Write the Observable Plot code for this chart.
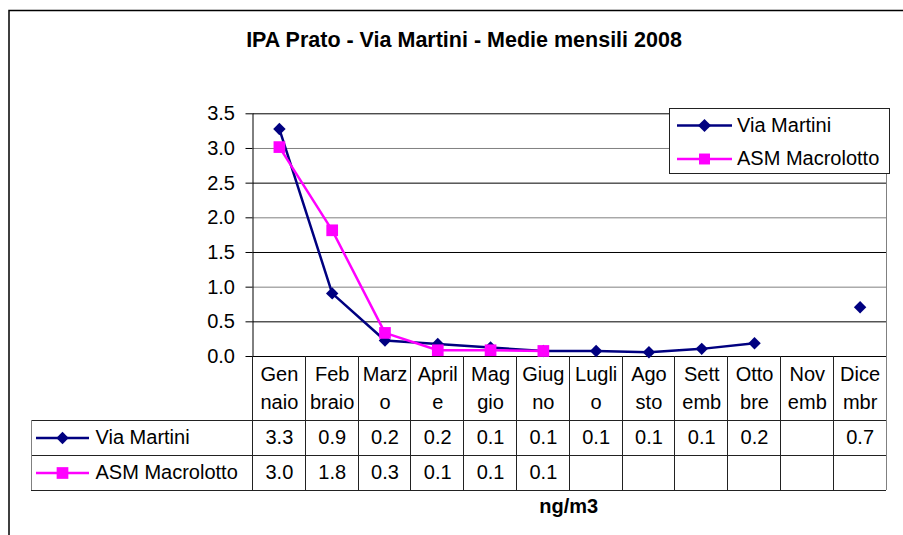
<!DOCTYPE html>
<html>
<head>
<meta charset="utf-8">
<script src="https://cdn.jsdelivr.net/npm/d3@7"></script>
<script src="https://cdn.jsdelivr.net/npm/@observablehq/plot@0.6"></script>
<style>
html, body { margin: 0; padding: 0; background: #fff; }
#chart svg { display: block; }
</style>
</head>
<body>
<div id="chart"></div>
<script>
// ---- Data ----
const chartTitle = "IPA Prato - Via Martini - Medie mensili 2008";
const unitLabel = "ng/m3";
const seriesNames = ["Via Martini", "ASM Macrolotto"];
const monthLine1 = ["Gen", "Feb", "Marz", "April", "Mag", "Giug", "Lugli", "Ago", "Sett", "Otto", "Nov", "Dice"];
const monthLine2 = ["naio", "braio", "o", "e", "gio", "no", "o", "sto", "emb", "bre", "emb", "mbr"];
const viaMartini = [3.28, 0.91, 0.23, 0.18, 0.13, 0.08, 0.08, 0.06, 0.11, 0.19, null, 0.71];
const asmMacrolotto = [3.02, 1.82, 0.34, 0.09, 0.09, 0.08, null, null, null, null, null, null];
const yTicks = [0, 0.5, 1.0, 1.5, 2.0, 2.5, 3.0, 3.5];

// ---- Layout ----
const W = 903, H = 535;
const L = 252.5, R = 886, T = 113.3, B = 356;
const FONT = "'Liberation Sans', Arial, Helvetica, sans-serif";
const NAVY = "#000080", MAGENTA = "#FF00FF";
const fmt = d3.format(".1f");
const idx = d3.range(monthLine1.length);
const rows = idx.map(i => ({i, v: viaMartini[i], a: asmMacrolotto[i]}));

const rowY = [437.5, 472.5];      // table rows centers (px)
const labelDy1 = 18.5, labelDy2 = 45.9;

const plot = Plot.plot({
  width: W, height: H,
  marginLeft: L, marginRight: W - R, marginTop: T, marginBottom: H - B,
  x: {type: "linear", domain: [-0.5, 11.5], axis: null},
  y: {domain: [0, 3.5], ticks: yTicks, tickFormat: fmt, tickSize: 7, tickPadding: 11, label: null},
  style: {fontFamily: FONT, fontSize: "20px", color: "#000", background: "#fff"},
  marks: [
    Plot.ruleY([1, 2, 3], {stroke: "#808080", strokeWidth: 1}),
    Plot.ruleY([0.5, 1.5, 2.5, 3.5], {stroke: "#000", strokeWidth: 1}),
    Plot.ruleY([0], {stroke: "#000", strokeWidth: 1}),
    Plot.ruleX([-0.5], {stroke: "#000", strokeWidth: 1}),
    // series
    Plot.line(rows, {x: "i", y: "v", stroke: NAVY, strokeWidth: 2.5}),
    Plot.dot(rows, {x: "i", y: "v", symbol: "diamond2", r: 5.6, fill: NAVY, stroke: "none"}),
    Plot.line(rows, {x: "i", y: "a", stroke: MAGENTA, strokeWidth: 2.5}),
    Plot.dot(rows, {x: "i", y: "a", symbol: "square", r: 6.6, fill: MAGENTA, stroke: "none"}),
    // data table: category labels
    Plot.text(idx, {x: d => d, text: d => monthLine1[d], frameAnchor: "bottom", lineAnchor: "middle", dy: labelDy1}),
    Plot.text(idx, {x: d => d, text: d => monthLine2[d], frameAnchor: "bottom", lineAnchor: "middle", dy: labelDy2}),
    // data table: values
    Plot.text(rows.filter(d => d.v != null), {x: "i", text: d => fmt(d.v), frameAnchor: "bottom", lineAnchor: "middle", dy: rowY[0] - B}),
    Plot.text(rows.filter(d => d.a != null), {x: "i", text: d => fmt(d.a), frameAnchor: "bottom", lineAnchor: "middle", dy: rowY[1] - B}),
    // row headers
    Plot.text([seriesNames[0]], {frameAnchor: "bottom-left", textAnchor: "start", lineAnchor: "middle", dx: 95 - L, dy: rowY[0] - B}),
    Plot.text([seriesNames[1]], {frameAnchor: "bottom-left", textAnchor: "start", lineAnchor: "middle", dx: 95 - L, dy: rowY[1] - B}),
    // axis title
    Plot.text([unitLabel], {frameAnchor: "bottom", lineAnchor: "middle", fontWeight: "bold", dx: -1, dy: 149.6}),
    // chart title
    Plot.text([chartTitle], {frameAnchor: "top", lineAnchor: "middle", fontWeight: "bold", fontSize: 21.5, dx: 463.5 - (L + R) / 2, dy: 40 - T})
  ]
});

document.getElementById("chart").appendChild(plot);

// ---- Decorations drawn with scales from the plot ----
const svg = d3.select(plot);
const xs = plot.scale("x");
const px = v => xs.apply(v);
const TL = 31, tTop = B, tRow1 = 420, tRow2 = 455, tBot = 490;
const g = svg.append("g").attr("fill", "none").attr("stroke", "#222").attr("stroke-width", 1).attr("shape-rendering", "crispEdges");
// horizontal table lines
[tRow1, tRow2, tBot].forEach(y => g.append("line").attr("x1", TL).attr("x2", px(11.5)).attr("y1", y).attr("y2", y));
// vertical table lines
d3.range(-0.5, 12, 1).forEach(v => {
  g.append("line").attr("x1", px(v)).attr("x2", px(v)).attr("y1", v === 11.5 ? T : tTop).attr("y2", tBot)
   .attr("stroke", v === 11.5 ? "#808080" : "#222");
});
g.append("line").attr("x1", TL).attr("x2", TL).attr("y1", tRow1).attr("y2", tBot).attr("stroke", "#808080");

// outer chart border
svg.append("path").attr("d", `M9,${H + 5}V10.5H${W + 5}`).attr("fill", "none").attr("stroke", "#000").attr("stroke-width", 1.5);

// legend keys helper
function key(parent, x1, x2, y, color, sym, size) {
  parent.append("line").attr("x1", x1).attr("x2", x2).attr("y1", y).attr("y2", y).attr("stroke", color).attr("stroke-width", 2.5);
  parent.append("path").attr("d", d3.symbol(sym, size)()).attr("transform", `translate(${(x1 + x2) / 2},${y})`).attr("fill", color);
}
// table row keys
key(svg, 36, 89, rowY[0] + 0.5, NAVY, d3.symbolDiamond2, 98);
key(svg, 36, 89, rowY[1] + 0.5, MAGENTA, d3.symbolSquare, 137);

// legend box
const lg = svg.append("g");
lg.append("rect").attr("x", 669.5).attr("y", 108.5).attr("width", 220).attr("height", 65)
  .attr("fill", "#fff").attr("stroke", "#222").attr("stroke-width", 1);
key(lg, 677, 732, 125.5, NAVY, d3.symbolDiamond2, 110);
key(lg, 677, 732, 159, MAGENTA, d3.symbolSquare, 120);
[seriesNames[0], seriesNames[1]].forEach((name, k) => {
  lg.append("text").attr("x", 737).attr("y", [125.5, 159][k]).attr("dy", "0.32em")
    .attr("text-anchor", "start")
    .attr("font-family", FONT).attr("font-size", 20).attr("fill", "#000").text(name);
});
</script>
</body>
</html>
